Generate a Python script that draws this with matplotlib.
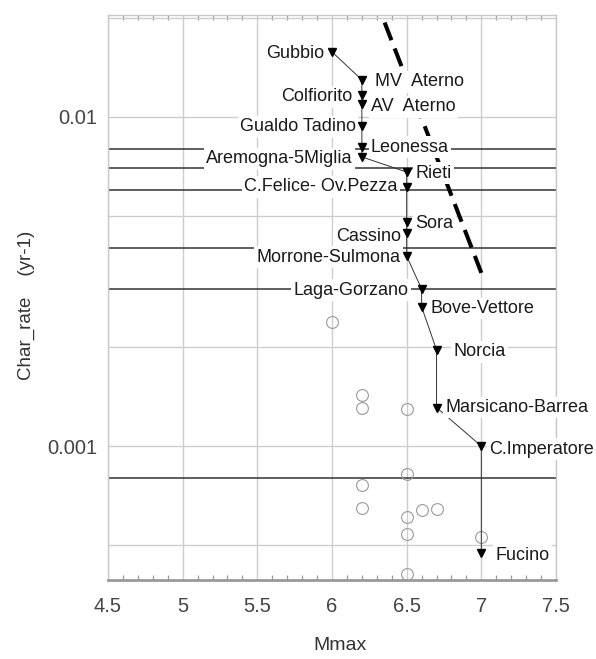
import matplotlib
matplotlib.use("Agg")
import matplotlib.pyplot as plt
from matplotlib.ticker import FixedLocator, MultipleLocator, NullFormatter, LogLocator, FuncFormatter

plt.rcParams['font.family'] = ['Liberation Sans', 'DejaVu Sans']

# ---- data ----
sources = ["Gubbio", "MV  Aterno", "Colfiorito", "AV  Aterno", "Gualdo Tadino",
           "Leonessa", "Aremogna-5Miglia", "Rieti", "C.Felice- Ov.Pezza", "Sora",
           "Cassino", "Morrone-Sulmona", "Laga-Gorzano", "Bove-Vettore", "Norcia",
           "Marsicano-Barrea", "C.Imperatore", "Fucino"]
mmax = [6.0, 6.2, 6.2, 6.2, 6.2, 6.2, 6.2, 6.5, 6.5, 6.5,
        6.5, 6.5, 6.6, 6.6, 6.7, 6.7, 7.0, 7.0]
char_rate = [0.01576, 0.01296, 0.01166, 0.01095, 0.00939, 0.0081, 0.00756, 0.0068, 0.00613, 0.0048,
             0.00444, 0.00378, 0.0030, 0.00265, 0.00196, 0.00131, 0.0010, 0.000473]

circle_m = [6.0, 6.2, 6.2, 6.5, 6.5, 6.2, 6.2, 6.5, 6.6, 6.7, 6.5, 7.0, 6.5]
circle_rate = [0.00238, 0.00143, 0.00131, 0.0013, 0.00082, 0.00076, 0.00065, 0.00061,
               0.00064, 0.000645, 0.00054, 0.00053, 0.00041]

gr_m = [6.3, 7.0]
gr_rate = [0.0223, 0.00336]

hline_rates = [0.008, 0.007, 0.006, 0.004, 0.003, 0.0008]

x_ticks = [4.5, 5, 5.5, 6, 6.5, 7, 7.5]
y_ticks = [0.01, 0.001]

# ---- layout for labels (side, dx px, dy px) ----
label_side = ["L", "R", "L", "R", "L", "R", "L", "R", "L", "R",
              "L", "L", "L", "R", "R", "R", "R", "R"]
label_dx_px = [8, 13, 9, 9, 6, 9, 9, 9, 9, 9, 6, 6, 13, 9, 17, 9, 8, 14]
label_dy_px = [-2, -2, -2, -3, -1, 0, -2, -1, 0, -2, -3, -1, -1, -2, -2, 0, -3, -2]

fig = plt.figure(figsize=(5.96, 6.59), dpi=100)
ax = fig.add_axes([108/596, 1-580/659, 448/596, 565/659])
ax.set_xlim(4.5, 7.5)
ax.set_yscale('log')
ax.set_ylim(0.000392, 0.0204)

grid_c = '#cdcdcd'
ax.xaxis.set_major_locator(FixedLocator(x_ticks))
ax.xaxis.set_minor_locator(MultipleLocator(0.1))
ax.xaxis.set_major_formatter(FuncFormatter(lambda v, p: '%g' % v))
ax.yaxis.set_major_locator(FixedLocator(y_ticks))
ax.yaxis.set_minor_locator(LogLocator(base=10, subs=(2.0, 5.0)))
ax.yaxis.set_minor_formatter(NullFormatter())
ax.yaxis.set_major_formatter(FuncFormatter(lambda v, p: '%g' % v))
ax.grid(True, which='major', axis='both', color=grid_c, lw=1.0, zorder=0)
ax.grid(True, which='minor', axis='y', color=grid_c, lw=1.0, zorder=0)
ax.set_axisbelow(True)

ax.tick_params(axis='x', which='both', direction='in', top=True, bottom=True,
               length=3.5, width=0.9, color='#999999', labelsize=14.5, labelcolor='#444444', pad=12)
ax.tick_params(axis='x', which='major', length=0)
ax.tick_params(axis='y', which='both', length=0, labelsize=14.5, labelcolor='#444444', pad=8)

for s in ['left', 'right', 'top']:
    ax.spines[s].set_color('#c8c8c8')
    ax.spines[s].set_linewidth(1.0)
ax.spines['bottom'].set_color('#999999')
ax.spines['bottom'].set_linewidth(2.0)

# horizontal dark lines
for r in hline_rates:
    ax.axhline(r, color='#333333', lw=1.1, zorder=1)

# thick dashed line
ax.plot(gr_m, gr_rate, color='black', lw=2.9, linestyle=(1.5, (4.7, 2.2)),
        dash_capstyle='butt', zorder=1.5)

# open circles
ax.plot(circle_m, circle_rate, linestyle='none', marker='o', markersize=8.5,
        markerfacecolor='none', markeredgecolor='#9a9a9a', markeredgewidth=0.8, zorder=2)

# connecting line
ax.plot(mmax, char_rate, color='#333333', lw=0.7, zorder=2)

# labels
for name, m, r, side, dx, dy in zip(sources, mmax, char_rate, label_side, label_dx_px, label_dy_px):
    off = (dx * 0.72 if side == 'R' else -dx * 0.72, dy * 0.72)
    ax.annotate(name, (m, r), xytext=off, textcoords='offset points',
                ha='left' if side == 'R' else 'right', va='center',
                fontsize=13, color='#1a1a1a', zorder=3, annotation_clip=False,
                bbox=dict(boxstyle='square,pad=0.12', fc='white', ec='none'))

# triangles
ax.plot(mmax, char_rate, linestyle='none', marker='v', markersize=6.2,
        color='black', zorder=4)

ax.set_xlabel('Mmax', fontsize=14, color='#333333')
ax.xaxis.label.set_va('center')
ax.xaxis.set_label_coords((340-108)/448, (580-645)/565)
ax.set_ylabel('Char_rate    (yr-1)', fontsize=13.5, color='#333333')
ax.yaxis.label.set_va('center')
ax.yaxis.set_label_coords((26-108)/448, (580-305)/565)

fig.savefig('out.png', dpi=100)
